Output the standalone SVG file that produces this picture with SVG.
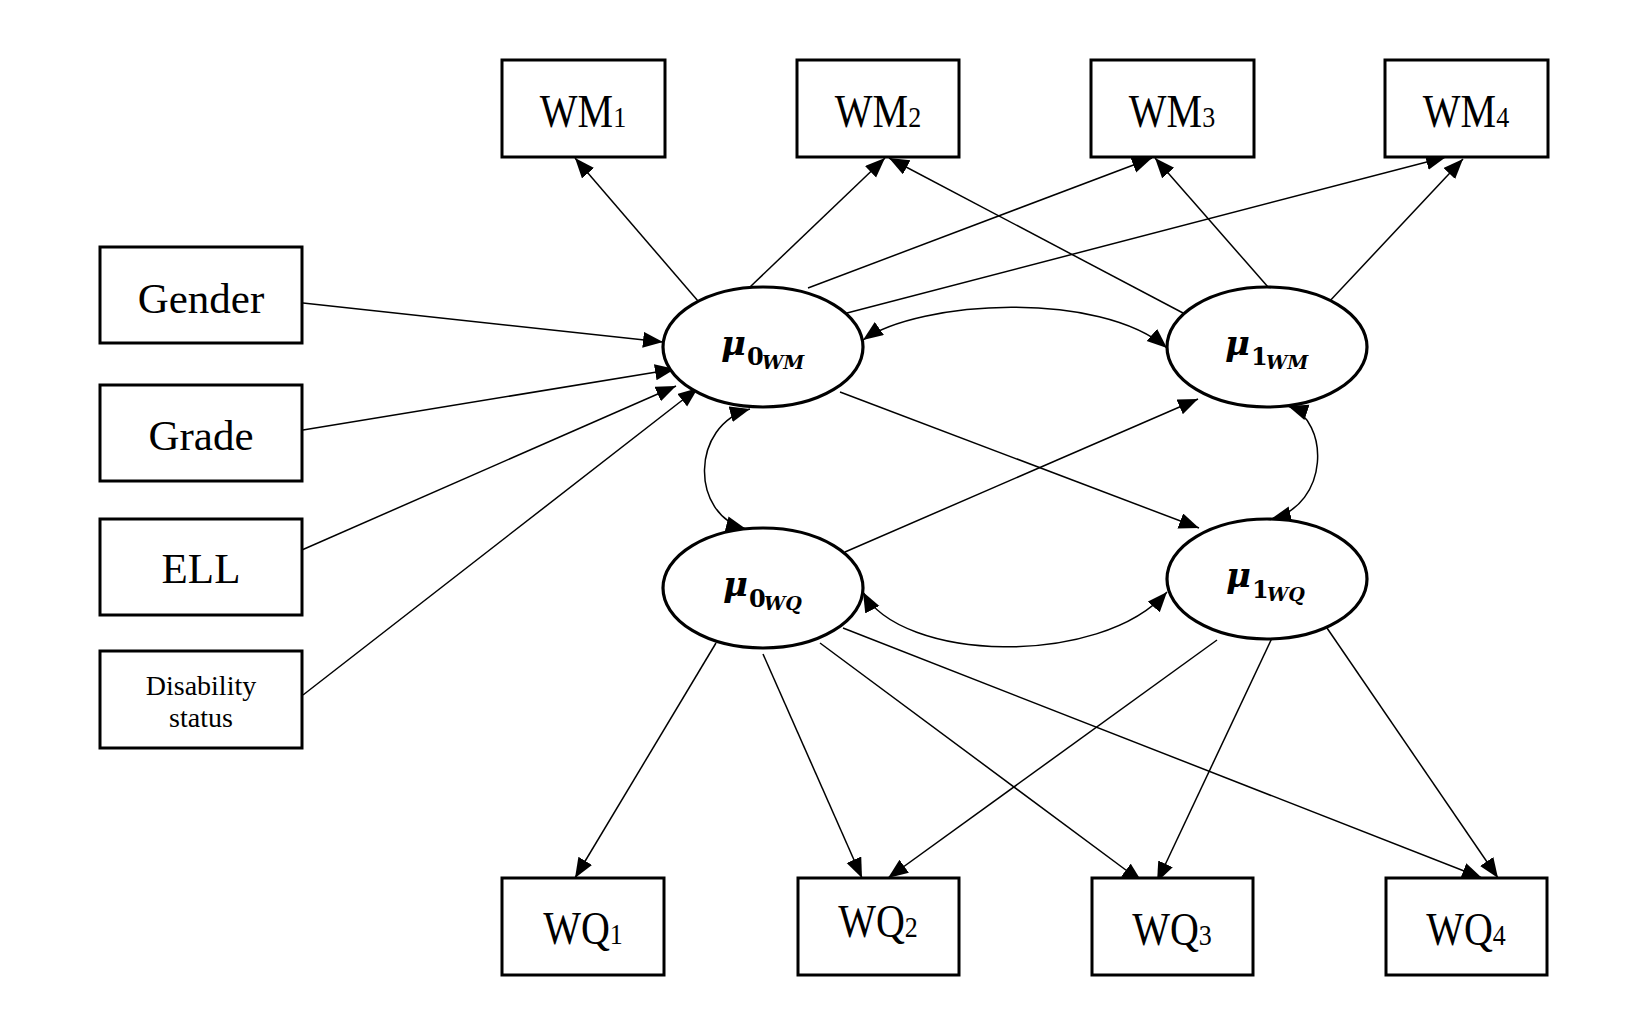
<svg xmlns="http://www.w3.org/2000/svg" width="1640" height="1032" viewBox="0 0 1640 1032">
<style>
.box{fill:#fff;stroke:#000;stroke-width:3}
.ell{fill:#fff;stroke:#000;stroke-width:3.2}
.lbl{font-family:"Liberation Serif","Times New Roman",serif;fill:#000}
.big{font-size:40px}
.side{font-size:43px}
.sub{font-size:26px}
.mu{font-family:"DejaVu Serif","Liberation Serif",serif;font-weight:bold;font-style:italic;fill:#000}
.c{fill:none;stroke:#000;stroke-width:1.5}
</style>
<defs>
<marker id="ah" markerUnits="userSpaceOnUse" markerWidth="22" markerHeight="18" viewBox="0 0 22 18" refX="20" refY="8" orient="auto-start-reverse">
<path d="M0,0 L20,8 L0,16 z" fill="#000"/>
</marker>
</defs>
<rect width="1640" height="1032" fill="#fff"/>

<g id="connectors">
<line class="c" x1="698" y1="301" x2="575" y2="158" marker-end="url(#ah)"/>
<line class="c" x1="750" y1="287" x2="885" y2="158" marker-end="url(#ah)"/>
<line class="c" x1="808" y1="288" x2="1152" y2="158" marker-end="url(#ah)"/>
<line class="c" x1="847" y1="313" x2="1446" y2="157" marker-end="url(#ah)"/>
<line class="c" x1="1183" y1="313" x2="889" y2="158" marker-end="url(#ah)"/>
<line class="c" x1="1268" y1="287" x2="1155" y2="158" marker-end="url(#ah)"/>
<line class="c" x1="1327" y1="304" x2="1463" y2="159" marker-end="url(#ah)"/>
<line class="c" x1="303" y1="303" x2="663" y2="342" marker-end="url(#ah)"/>
<line class="c" x1="303" y1="430" x2="675" y2="369" marker-end="url(#ah)"/>
<line class="c" x1="295" y1="553" x2="676" y2="386" marker-end="url(#ah)"/>
<line class="c" x1="303" y1="695" x2="698" y2="388" marker-end="url(#ah)"/>
<line class="c" x1="840" y1="392" x2="1199" y2="528" marker-end="url(#ah)"/>
<line class="c" x1="845" y1="552" x2="1198" y2="399" marker-end="url(#ah)"/>
<path class="c" d="M863,340 C920,300 1100,290 1167,348" marker-start="url(#ah)" marker-end="url(#ah)"/>
<path class="c" d="M863,592 C900,662 1100,668 1167,592" marker-start="url(#ah)" marker-end="url(#ah)"/>
<path class="c" d="M750,409 C690,425 690,515 746,529" marker-start="url(#ah)" marker-end="url(#ah)"/>
<path class="c" d="M1288,406 C1330,420 1330,505 1271,519" marker-start="url(#ah)" marker-end="url(#ah)"/>
<line class="c" x1="716" y1="643" x2="575" y2="878" marker-end="url(#ah)"/>
<line class="c" x1="763" y1="654" x2="862" y2="878" marker-end="url(#ah)"/>
<line class="c" x1="820" y1="643" x2="1142" y2="882" marker-end="url(#ah)"/>
<line class="c" x1="843" y1="628" x2="1482" y2="878" marker-end="url(#ah)"/>
<line class="c" x1="1217" y1="640" x2="888" y2="878" marker-end="url(#ah)"/>
<line class="c" x1="1272" y1="638" x2="1157" y2="882" marker-end="url(#ah)"/>
<line class="c" x1="1327" y1="628" x2="1498" y2="878" marker-end="url(#ah)"/>
</g>

<g id="WM1"><rect class="box" x="502" y="60" width="163" height="97"/>
<g transform="translate(583,127) scale(1,1.15)"><text class="lbl big" text-anchor="middle">WM<tspan class="sub">1</tspan></text></g></g>
<g id="WM2"><rect class="box" x="797" y="60" width="162" height="97"/>
<g transform="translate(878,127) scale(1,1.15)"><text class="lbl big" text-anchor="middle">WM<tspan class="sub">2</tspan></text></g></g>
<g id="WM3"><rect class="box" x="1091" y="60" width="163" height="97"/>
<g transform="translate(1172,127) scale(1,1.15)"><text class="lbl big" text-anchor="middle">WM<tspan class="sub">3</tspan></text></g></g>
<g id="WM4"><rect class="box" x="1385" y="60" width="163" height="97"/>
<g transform="translate(1466,127) scale(1,1.15)"><text class="lbl big" text-anchor="middle">WM<tspan class="sub">4</tspan></text></g></g>

<g id="WQ1"><rect class="box" x="502" y="878" width="162" height="97"/>
<g transform="translate(583,944) scale(1,1.15)"><text class="lbl big" text-anchor="middle">WQ<tspan class="sub">1</tspan></text></g></g>
<g id="WQ2"><rect class="box" x="798" y="878" width="161" height="97"/>
<g transform="translate(878,937) scale(1,1.15)"><text class="lbl big" text-anchor="middle">WQ<tspan class="sub">2</tspan></text></g></g>
<g id="WQ3"><rect class="box" x="1092" y="878" width="161" height="97"/>
<g transform="translate(1172,945) scale(1,1.15)"><text class="lbl big" text-anchor="middle">WQ<tspan class="sub">3</tspan></text></g></g>
<g id="WQ4"><rect class="box" x="1386" y="878" width="161" height="97"/>
<g transform="translate(1466,945) scale(1,1.15)"><text class="lbl big" text-anchor="middle">WQ<tspan class="sub">4</tspan></text></g></g>

<g id="Gender"><rect class="box" x="100" y="247" width="202" height="96"/>
<text class="lbl side" x="201" y="313" text-anchor="middle">Gender</text></g>
<g id="Grade"><rect class="box" x="100" y="385" width="202" height="96"/>
<text class="lbl side" x="201" y="450" text-anchor="middle">Grade</text></g>
<g id="ELL"><rect class="box" x="100" y="519" width="202" height="96"/>
<text class="lbl side" x="201" y="583" text-anchor="middle">ELL</text></g>
<g id="Disability"><rect class="box" x="100" y="651" width="202" height="97"/>
<text class="lbl" font-size="28" x="201" y="695" text-anchor="middle">Disability</text>
<text class="lbl" font-size="28" x="201" y="727" text-anchor="middle">status</text></g>

<g id="mu0WM"><ellipse class="ell" cx="763" cy="347" rx="100" ry="60"/>
<text class="mu"><tspan x="721" y="355" font-size="34">μ</tspan><tspan x="747" y="365" font-size="24" font-style="normal">0</tspan><tspan x="762" y="369" font-size="19">WM</tspan></text></g>
<g id="mu1WM"><ellipse class="ell" cx="1267" cy="347" rx="100" ry="60"/>
<text class="mu"><tspan x="1225" y="355" font-size="34">μ</tspan><tspan x="1251" y="365" font-size="24" font-style="normal">1</tspan><tspan x="1266" y="369" font-size="19">WM</tspan></text></g>
<g id="mu0WQ"><ellipse class="ell" cx="763" cy="588" rx="100" ry="60"/>
<text class="mu"><tspan x="723" y="596" font-size="34">μ</tspan><tspan x="749" y="607" font-size="24" font-style="normal">0</tspan><tspan x="764" y="610" font-size="19">WQ</tspan></text></g>
<g id="mu1WQ"><ellipse class="ell" cx="1267" cy="579" rx="100" ry="60"/>
<text class="mu"><tspan x="1226" y="587" font-size="34">μ</tspan><tspan x="1252" y="598" font-size="24" font-style="normal">1</tspan><tspan x="1267" y="601" font-size="19">WQ</tspan></text></g>
</svg>
